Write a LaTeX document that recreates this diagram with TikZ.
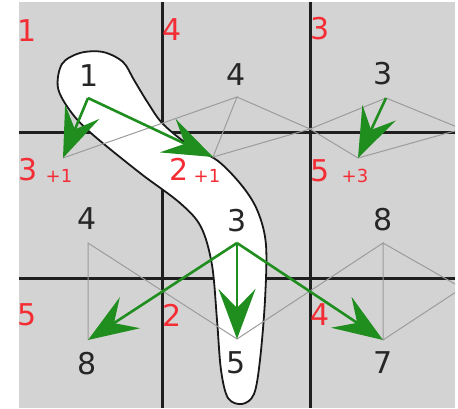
\documentclass[tikz,border=0pt]{standalone}
\usepackage{fontspec}
\setmainfont{DejaVu Sans}
\usepackage{tikz}
\usetikzlibrary{arrows.meta}
\definecolor{cell-grey}{HTML}{D3D3D3}
\definecolor{flow-green}{HTML}{1F8E1F}
\definecolor{tag-red}{HTML}{F42C34}
\definecolor{mesh-grey}{HTML}{9C9C9C}

\begin{document}
\begin{tikzpicture}[x=1pt, y=-1pt,
    val/.style={font=\fontsize{30}{30}\selectfont, text=black!85, inner sep=0pt},
    tag/.style={font=\fontsize{30}{30}\selectfont, text=tag-red, inner sep=0pt},
    bonus/.style={font=\fontsize{18}{18}\selectfont, text=tag-red, inner sep=0pt},
    gridline/.style={black!88, line width=3pt},
    mesh/.style={mesh-grey, line width=1pt},
    flow/.style={flow-green, line width=2.6pt,
      -{Stealth[length=50pt, width=37pt, inset=19pt]}}]
    \useasboundingbox (0,0) rectangle (458,409);
    \fill[cell-grey] (19,2) rectangle (455,408);

    % cell borders
    \draw[gridline] (162,2) -- (162,408);
    \draw[gridline] (310,2) -- (310,408);
    \draw[gridline] (19,133) -- (455,133);
    \draw[gridline] (19,278) -- (455,278);

    % selected path
    \draw[fill=white, draw=black!90, line width=1.8pt]
      plot[smooth cycle, tension=0.55] coordinates {
        (80,53) (103,52) (123,62) (134,80) (148,103) (163,124) (190,146)
        (218,161) (243,187) (258,212) (266,245) (265,300) (260,360)
        (254,394) (242,404) (228,398) (221,370) (217,320) (212,265)
        (201,227) (180,203) (140,173) (92,134) (71,112) (58,88) (62,64)};

    % sample points
    \coordinate (a1) at (88,98);
    \coordinate (a2) at (237,97);
    \coordinate (a3) at (386,98);
    \coordinate (b1) at (63,158);
    \coordinate (b2) at (213,157);
    \coordinate (b3) at (358,158);
    \coordinate (mid) at (310,129);
    \coordinate (edge1) at (462,129);
    \coordinate (c1) at (88,243);
    \coordinate (c2) at (237,243);
    \coordinate (c3) at (383,243);
    \coordinate (d1) at (88,340);
    \coordinate (d2) at (237,339);
    \coordinate (d3) at (383,340);
    \coordinate (edge2) at (462,288);

    \begin{scope}
        \clip (19,2) rectangle (455,408);
        \draw[mesh] (b1) -- (a2) -- (b2) -- (mid) -- (a2);
        \draw[mesh] (a3) -- (mid) -- (b3) -- (edge1) -- (a3);
        \draw[mesh] (d1) -- (c1) -- (d2) -- (c3) -- (d3) -- (edge2) -- (c3);
    \end{scope}

    % moves
    \draw[flow] (a1) -- (b1);
    \draw[flow] (a1) -- (b2);
    \draw[flow] (a3) -- (b3);
    \draw[flow] (c2) -- (d1);
    \draw[flow] (c2) -- (d2);
    \draw[flow] (c2) -- (d3);

    % values
    \node[val] (v11) at (89,76) {1};
    \node[val] (v12) at (236,75) {4};
    \node[val] (v13) at (383,74) {3};
    \node[val] (v21) at (87,219) {4};
    \node[val] (v22) at (237,221) {3};
    \node[val] (v23) at (383,220) {8};
    \node[val] (v31) at (87,364) {8};
    \node[val] (v32) at (236,363) {5};
    \node[val] (v33) at (383,363) {7};

    % costs
    \node[tag] (t11) at (27,31) {1};
    \node[tag] (t12) at (172,30) {4};
    \node[tag] (t13) at (320,29) {3};
    \node[tag] (t21) at (28,170) {3};
    \node[bonus] (s21) at (59,176) {+1};
    \node[tag] (t22) at (179,169) {2};
    \node[bonus] (s22) at (207,176) {+1};
    \node[tag] (t23) at (320,171) {5};
    \node[bonus] (s23) at (355,176) {+3};
    \node[tag] (t31) at (27,315) {5};
    \node[tag] (t32) at (172,315) {2};
    \node[tag] (t33) at (320,315) {4};
\end{tikzpicture}
\end{document}
